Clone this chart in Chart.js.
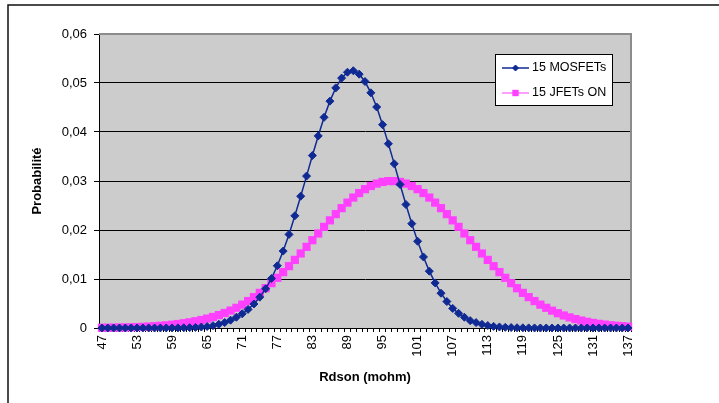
<!DOCTYPE html>
<html><head><meta charset="utf-8">
<script src="https://cdn.jsdelivr.net/npm/chart.js@4"></script>
<style>html,body{margin:0;padding:0;background:#fff;overflow:hidden}canvas{display:block}</style>
</head><body>
<canvas id="c" width="719" height="403"></canvas>
<script>
const categories = [47,48,49,50,51,52,53,54,55,56,57,58,59,60,61,62,63,64,65,66,67,68,69,70,71,72,73,74,75,76,77,78,79,80,81,82,83,84,85,86,87,88,89,90,91,92,93,94,95,96,97,98,99,100,101,102,103,104,105,106,107,108,109,110,111,112,113,114,115,116,117,118,119,120,121,122,123,124,125,126,127,128,129,130,131,132,133,134,135,136,137];
const tickLabels = ['47','53','59','65','71','77','83','89','95','101','107','113','119','125','131','137'];
const mosfets = [0,0,0,0,0,0,0.000001,0.000001,0.000002,0.000003,0.000005,0.000008,0.000014,0.000024,0.00004,0.00007,0.00012,0.0002,0.0003,0.00048,0.00075,0.0011,0.0016,0.0022,0.0029,0.0038,0.0049,0.0063,0.0080,0.0101,0.0127,0.0157,0.0191,0.0229,0.0269,0.0310,0.0352,0.0392,0.0430,0.0463,0.0490,0.0510,0.0522,0.0525,0.0518,0.0503,0.0480,0.0451,0.0415,0.0376,0.0335,0.0293,0.0252,0.0213,0.0177,0.0145,0.0116,0.0092,0.0071,0.0054,0.0040,0.0030,0.0022,0.0015,0.0011,0.00074,0.0005,0.00033,0.00021,0.00014,0.00009,0.00005,0.00003,0.00002,0.00001,0,0,0,0,0,0,0,0,0,0,0,0,0,0,0,0];
const jfetsOn = [0.00005,0.00006,0.00008,0.0001,0.00012,0.00015,0.00019,0.00024,0.0003,0.00037,0.00045,0.00055,0.00067,0.00081,0.00097,0.00116,0.00138,0.00163,0.00192,0.00225,0.00263,0.00306,0.00356,0.00412,0.00477,0.0055,0.0063,0.00717,0.00812,0.00915,0.01024,0.0114,0.01262,0.0139,0.01521,0.01656,0.01792,0.01929,0.02064,0.02197,0.02324,0.02446,0.02559,0.02662,0.02754,0.02833,0.02898,0.02947,0.02981,0.02998,0.02998,0.02981,0.02947,0.02898,0.02833,0.02754,0.02662,0.02559,0.02446,0.02324,0.02197,0.02064,0.01929,0.01792,0.01656,0.01521,0.0139,0.01262,0.0114,0.01024,0.00915,0.00812,0.00717,0.0063,0.0055,0.00477,0.00412,0.00354,0.00302,0.00256,0.00216,0.00182,0.00152,0.00126,0.00104,0.00085,0.0007,0.00056,0.00046,0.00037,0.00029];
const seriesNames = ['15 MOSFETs','15 JFETs ON'];
const yTicks = [0,0.01,0.02,0.03,0.04,0.05,0.06];
const xTitle = 'Rdson (mohm)';
const yTitle = 'Probabilité';

const FAMILY = "'Liberation Sans', Arial, sans-serif";
const NAVY = '#102A94', PINK = '#FF40FF';
Chart.defaults.font.family = FAMILY;
Chart.defaults.font.size = 13;
Chart.defaults.color = '#000';

const frame = {
  id: 'frame',
  beforeDraw(chart) {
    const {ctx, chartArea: a} = chart;
    ctx.save();
    ctx.fillStyle = '#fff';
    ctx.fillRect(0, 0, chart.width, chart.height);
    ctx.strokeStyle = '#111';
    ctx.lineWidth = 1.5;
    ctx.strokeRect(8, 5, 800, 500);
    ctx.fillStyle = '#CCCCCC';
    ctx.fillRect(a.left, a.top, a.right - a.left, a.bottom - a.top);
    ctx.restore();
  },
  beforeDatasetsDraw(chart) {
    const {ctx, chartArea: a} = chart;
    ctx.save();
    ctx.strokeStyle = '#8C8C8C';
    ctx.lineWidth = 2;
    ctx.beginPath();
    ctx.moveTo(a.left, a.top);
    ctx.lineTo(a.right, a.top);
    ctx.lineTo(a.right, a.bottom);
    ctx.stroke();
    ctx.restore();
  }
};

const boxLegend = {
  id: 'boxLegend',
  afterDraw(chart) {
    const ctx = chart.ctx;
    ctx.save();
    const x = 495.5, y = 54.5, w = 117, h = 51;
    ctx.fillStyle = '#fff';
    ctx.fillRect(x, y, w, h);
    ctx.strokeStyle = '#000';
    ctx.lineWidth = 1;
    ctx.strokeRect(x, y, w, h);
    chart.data.datasets.forEach((ds, i) => {
      const cy = 68 + i * 25;
      ctx.strokeStyle = ds.borderColor;
      ctx.lineWidth = ds.borderWidth;
      ctx.beginPath();
      ctx.moveTo(502, cy);
      ctx.lineTo(529, cy);
      ctx.stroke();
      ctx.fillStyle = ds.pointBackgroundColor;
      ctx.strokeStyle = ds.pointBorderColor;
      ctx.lineWidth = ds.pointBorderWidth;
      Chart.helpers.drawPoint(ctx, {pointStyle: ds.pointStyle, radius: i === 0 ? 3 : 4.5, borderWidth: ds.pointBorderWidth, rotation: 0}, 515.5, cy);
      ctx.fillStyle = '#000';
      ctx.font = '12.5px ' + FAMILY;
      ctx.textBaseline = 'middle';
      ctx.textAlign = 'left';
      ctx.fillText(ds.label, 532, cy);
    });
    ctx.restore();
  }
};

new Chart(document.getElementById('c'), {
  type: 'line',
  data: {
    labels: categories,
    datasets: [
      {label: seriesNames[0], data: mosfets, borderColor: NAVY, borderWidth: 1.5,
       pointStyle: 'rectRot', pointRadius: 4, pointBackgroundColor: NAVY, pointBorderColor: NAVY,
       pointBorderWidth: 1, tension: 0, clip: false},
      {label: seriesNames[1], data: jfetsOn, borderColor: PINK, borderWidth: 1,
       pointStyle: 'rect', pointRadius: 5.8, pointBackgroundColor: PINK, pointBorderColor: PINK,
       pointBorderWidth: 0, tension: 0, clip: false}
    ]
  },
  options: {
    responsive: false,
    animation: false,
    devicePixelRatio: 1,
    layout: {padding: {left: 0, top: 34, right: 88, bottom: 0}},
    plugins: {legend: {display: false}, tooltip: {enabled: false}},
    scales: {
      x: {
        type: 'category',
        offset: true,
        afterFit(s) { s.height = 75; },
        grid: {display: true, drawOnChartArea: false, drawTicks: true, tickLength: 4, color: '#000', offset: true},
        border: {display: true, color: '#000', width: 1},
        ticks: {
          autoSkip: false, minRotation: 90, maxRotation: 90, padding: 3,
          font: {size: 13},
          callback(v, i) { const l = String(categories[i]); return tickLabels.includes(l) ? l : ''; }
        },
        title: {display: true, text: xTitle, font: {size: 13, weight: 'bold'}, padding: {top: 0, bottom: 18}}
      },
      y: {
        min: 0, max: 0.06,
        afterFit(s) { s.width = 99; },
        afterBuildTicks(s) { s.ticks = yTicks.map(v => ({value: v})); },
        grid: {color: '#000', lineWidth: 1, drawTicks: true, tickLength: 5},
        border: {display: true, color: '#000', width: 1},
        ticks: {
          padding: 7, font: {size: 13},
          callback(v) { return v === 0 ? '0' : v.toFixed(2).replace('.', ','); }
        },
        title: {display: true, text: yTitle, font: {size: 13, weight: 'bold'}, padding: {top: 30, bottom: 0}}
      }
    }
  },
  plugins: [frame, boxLegend]
});
</script>
</body></html>
